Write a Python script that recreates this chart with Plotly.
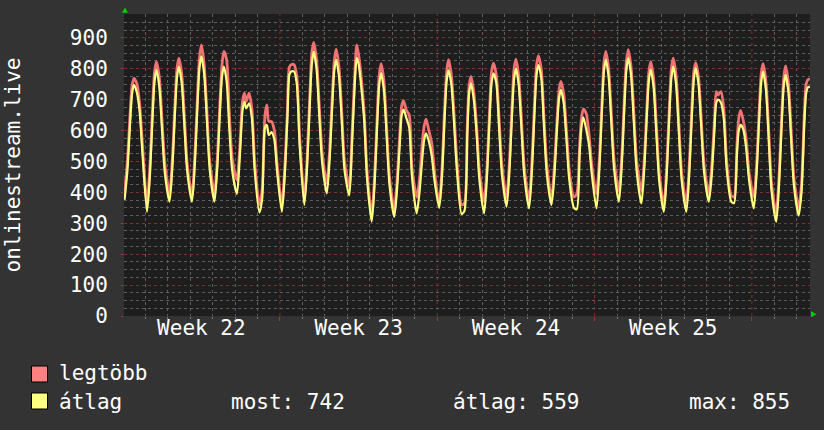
import plotly.graph_objects as go
from datetime import datetime, timedelta

# ---------------- data ----------------
START = datetime(2023, 5, 29)          # Monday, ISO week 22
HOURS = [2, 5, 8, 10, 12, 15, 18, 21]  # sample hours of each full day
LAST_HOURS = [2, 5, 8, 10, 12, 14]     # sample hours of the final (partial) day
WEEK_NUMBERS = [22, 23, 24, 25]

# "átlag" (average) per day
AVG_DAYS = [
    [376, 469, 629, 718, 748, 725, 665, 530],
    [337, 452, 649, 759, 796, 745, 604, 464],
    [370, 479, 667, 772, 807, 755, 610, 466],
    [370, 488, 690, 802, 840, 784, 629, 473],
    [370, 479, 667, 772, 807, 760, 600, 470],
    [395, 510, 665, 694, 672, 688, 640, 470],
    [335, 380, 610, 618, 585, 595, 570, 465],
    [337, 450, 646, 780, 791, 791, 750, 553],
    [359, 483, 696, 815, 855, 800, 649, 498],
    [397, 505, 691, 794, 829, 776, 630, 470],
    [390, 560, 760, 835, 815, 735, 630, 445],
    [305, 425, 632, 748, 786, 730, 577, 423],
    [321, 409, 560, 650, 668, 640, 610, 450],
    [332, 400, 510, 570, 591, 565, 520, 440],
    [350, 450, 650, 760, 795, 750, 620, 470],
    [330, 340, 580, 720, 753, 700, 590, 440],
    [332, 447, 644, 754, 785, 755, 610, 460],
    [354, 466, 659, 766, 800, 747, 601, 453],
    [348, 466, 668, 780, 812, 773, 611, 460],
    [359, 452, 613, 702, 732, 690, 570, 440],
    [350, 345, 520, 610, 643, 605, 555, 460],
    [348, 468, 675, 791, 829, 774, 622, 471],
    [370, 486, 686, 797, 834, 778, 623, 468],
    [364, 472, 658, 762, 797, 742, 590, 438],
    [337, 455, 657, 769, 807, 751, 596, 440],
    [337, 453, 653, 765, 802, 750, 608, 465],
    [370, 450, 600, 690, 700, 690, 640, 480],
    [370, 365, 520, 600, 618, 602, 540, 440],
    [348, 459, 649, 756, 791, 733, 572, 406],
    [305, 424, 628, 742, 780, 725, 570, 420],
    [325, 400, 620, 720, 740, 742],
]

# "legtöbb" (maximum) per day
MAX_DAYS = [
    [400, 500, 660, 745, 769, 753, 690, 560],
    [364, 480, 680, 790, 823, 775, 635, 495],
    [397, 505, 695, 800, 834, 785, 640, 490],
    [390, 515, 720, 835, 877, 815, 660, 500],
    [395, 505, 700, 810, 856, 829, 650, 510],
    [440, 540, 695, 721, 694, 721, 670, 500],
    [360, 410, 650, 683, 630, 629, 600, 490],
    [360, 475, 670, 805, 813, 813, 775, 580],
    [380, 510, 725, 850, 885, 830, 680, 530],
    [429, 535, 720, 825, 863, 805, 660, 500],
    [420, 590, 790, 877, 845, 765, 655, 470],
    [327, 450, 660, 778, 816, 760, 605, 450],
    [345, 435, 590, 680, 697, 665, 651, 480],
    [385, 440, 560, 615, 637, 600, 560, 470],
    [365, 475, 680, 790, 829, 780, 650, 500],
    [360, 365, 610, 745, 775, 725, 615, 470],
    [370, 475, 675, 790, 818, 780, 640, 490],
    [385, 495, 690, 800, 831, 775, 630, 480],
    [375, 495, 695, 810, 842, 800, 640, 490],
    [380, 480, 640, 730, 759, 720, 600, 470],
    [385, 395, 550, 640, 669, 656, 590, 490],
    [395, 500, 700, 820, 856, 800, 650, 500],
    [405, 515, 715, 825, 862, 805, 655, 500],
    [405, 500, 685, 790, 823, 770, 620, 465],
    [358, 480, 685, 800, 834, 780, 625, 465],
    [365, 480, 680, 790, 820, 775, 635, 490],
    [397, 480, 630, 726, 715, 726, 670, 505],
    [390, 385, 550, 640, 665, 630, 570, 465],
    [385, 485, 675, 785, 816, 760, 600, 430],
    [332, 450, 655, 770, 809, 755, 600, 445],
    [350, 425, 650, 750, 765, 766],
]

SERIES_NAMES = ["legtöbb", "átlag"]
STATS = {"most": 742, "átlag": 559, "max": 855}
Y_TITLE = "onlinestream.live"
N_DAYS_SHOWN = 31

# ---------------- build ----------------
def times_for(days):
    xs = []
    for d, vals in enumerate(days):
        hrs = HOURS if len(vals) == len(HOURS) else LAST_HOURS
        for h in hrs[:len(vals)]:
            xs.append(START + timedelta(days=d, hours=h))
    return xs

def flat(days):
    return [v for row in days for v in row]

x_vals = times_for(AVG_DAYS)
avg_vals = flat(AVG_DAYS)
max_vals = flat(MAX_DAYS)

FONT = "DejaVu Sans Mono"
BG = "#333333"
CANVAS = "#1e1e1e"
MAXC = "#f07272"
AVGC = "#ffff80"
MGRID = "#803030"
GRID = "#5e5e5e"

L, R, T, B = 124, 810, 14, 316
W, H = 824, 430
def px(x):
    return (x - L) / (R - L)
def py(y):
    return (B - y) / (B - T)

x_start = START + timedelta(hours=1.4)
x_end = START + timedelta(days=30, hours=14.1)

fig = go.Figure()
fig.add_trace(go.Scatter(x=x_vals, y=max_vals, mode="lines", name=SERIES_NAMES[0],
                         line=dict(color=MAXC, width=2.8, shape="spline", smoothing=0.7),
                         showlegend=False))
fig.add_trace(go.Scatter(x=x_vals, y=avg_vals, mode="lines", name=SERIES_NAMES[1],
                         line=dict(color=AVGC, width=2.2, shape="spline", smoothing=0.7),
                         showlegend=False))
# empty helper trace so the week-label axis (x2) gets drawn
fig.add_trace(go.Scatter(x=[x_start, x_end], y=[None, None], xaxis="x2", yaxis="y",
                         mode="lines", showlegend=False, hoverinfo="skip"))

day_ticks = [START + timedelta(days=d) for d in range(1, N_DAYS_SHOWN) if d % 7 != 0]
week_bounds = [START + timedelta(days=d) for d in range(7, N_DAYS_SHOWN, 7)]
week_mids = [START + timedelta(days=7 * i + 3.5) for i in range(len(WEEK_NUMBERS))]
week_text = [f"Week {w}" for w in WEEK_NUMBERS]

fig.update_layout(
    xaxis=dict(
        type="date", range=[x_start, x_end],
        tickmode="array", tickvals=week_bounds, showticklabels=False,
        showgrid=False,
        ticks="outside", ticklen=4, tickcolor="#aa3333",
        minor=dict(tickmode="array", tickvals=day_ticks, showgrid=True, gridcolor=GRID,
                   griddash="dot", gridwidth=1, ticks="outside", ticklen=2,
                   tickcolor="#777777"),
        showline=False, zeroline=False,
    ),
    xaxis2=dict(
        type="date", range=[x_start, x_end], overlaying="x", anchor="y", side="bottom",
        tickmode="array", tickvals=week_mids, ticktext=week_text,
        showgrid=False, ticks="", ticklabelstandoff=-3,
        tickfont=dict(family=FONT, size=21, color="#ffffff"),
        showline=False, zeroline=False,
    ),
    yaxis=dict(
        range=[0, 977], dtick=100, tick0=0,
        showgrid=True, gridcolor=MGRID, griddash="dot", gridwidth=1,
        ticks="outside", ticklen=2, tickcolor="#aa3333",
        ticklabelstandoff=9,
        tickfont=dict(family=FONT, size=21, color="#ffffff"),
        minor=dict(dtick=25, showgrid=True, gridcolor=GRID, griddash="dot", gridwidth=1),
        showline=False, zeroline=False,
    ),
)

shapes = []
# weekly (major) vertical grid lines, drawn below the data
for wb in week_bounds:
    shapes.append(dict(type="line", xref="x", yref="paper", x0=wb, x1=wb, y0=0, y1=1,
                       line=dict(color=MGRID, width=1, dash="dot"), layer="below"))
# axis arrows
shapes.append(dict(type="path", xref="paper", yref="paper",
                   path=f"M {px(125)},{py(7.5)} L {px(122)},{py(12.8)} L {px(128)},{py(12.8)} Z",
                   fillcolor="#00d000", line=dict(width=0)))
shapes.append(dict(type="path", xref="paper", yref="paper",
                   path=f"M {px(816.5)},{py(314.2)} L {px(811)},{py(311.2)} L {px(811)},{py(317.2)} Z",
                   fillcolor="#00d000", line=dict(width=0)))
# legend swatches
for (y0, y1), col in zip([(366, 382), (393, 409)], ["#ff8080", AVGC]):
    shapes.append(dict(type="rect", xref="paper", yref="paper",
                       x0=px(31.5), x1=px(47.5), y0=py(y1), y1=py(y0),
                       fillcolor=col, line=dict(color="#000000", width=1)))

annotations = []
annotations.append(dict(text=Y_TITLE, textangle=-90, xref="paper", yref="paper",
                        x=px(12.5), y=py(165), xanchor="center", yanchor="middle",
                        showarrow=False, font=dict(family=FONT, size=21, color="#ffffff")))
legend_texts = [
    (SERIES_NAMES[0], 57, 373),
    (SERIES_NAMES[1], 57, 402),
    (f"most: {STATS['most']}", 229, 402),
    (f"átlag: {STATS['átlag']}", 451, 402),
    (f"max: {STATS['max']}", 687, 402),
]
for txt, xl, yc in legend_texts:
    annotations.append(dict(text=txt, xref="paper", yref="paper", x=px(xl), y=py(yc),
                            xanchor="left", yanchor="middle", showarrow=False,
                            font=dict(family=FONT, size=21, color="#ffffff")))

fig.update_layout(
    width=W, height=H,
    margin=dict(l=L, r=W - R, t=T, b=H - B),
    paper_bgcolor=BG, plot_bgcolor=CANVAS,
    shapes=shapes, annotations=annotations,
    showlegend=False,
)

fig.write_html("out.html")
